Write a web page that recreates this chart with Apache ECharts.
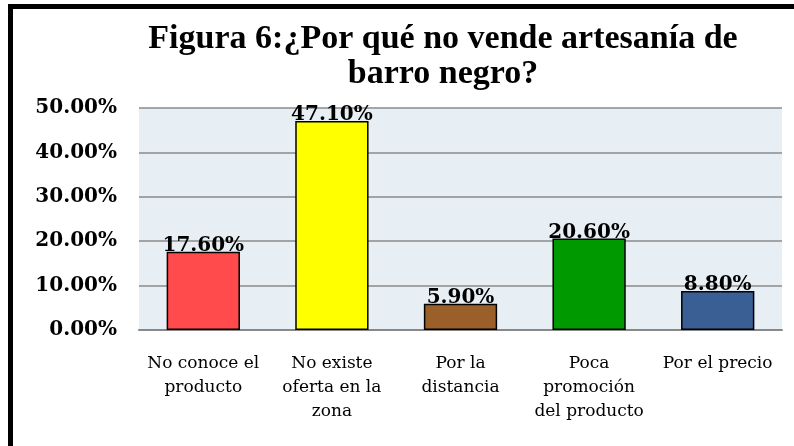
<!DOCTYPE html>
<html>
<head>
<meta charset="utf-8">
<script src="https://cdn.jsdelivr.net/npm/echarts@6/dist/echarts.min.js"></script>
<style>
  html, body { margin: 0; padding: 0; background: #fff; }
  #chart { width: 794px; height: 446px; }
</style>
</head>
<body>
<div id="chart"></div>
<script>
// categorias y porcentajes
var categorias = [
  'No conoce el\nproducto',
  'No existe\noferta en la\nzona',
  'Por la\ndistancia',
  'Poca\npromoción\ndel producto',
  'Por el precio'
];
var valores = [17.6, 47.1, 5.9, 20.6, 8.8];
var colores = ['#ff4b4b', '#ffff00', '#9b5f2a', '#009900', '#3a5f95'];

var serif = '"Liberation Serif", "DejaVu Serif", serif';
var ancha = '"DejaVu Serif", serif';

var myChart = echarts.init(document.getElementById('chart'));
myChart.setOption({
  animation: false,
  backgroundColor: '#fff',
  title: {
    text: 'Figura 6:¿Por qué no vende artesanía de\nbarro negro?',
    left: 438,
    top: 17,
    textAlign: 'center',
    textStyle: {
      fontFamily: serif,
      fontWeight: 'bold',
      fontSize: 34,
      lineHeight: 35,
      color: '#000'
    }
  },
  graphic: [
    { type: 'rect', shape: { x: 8, y: 4, width: 786, height: 5 }, style: { fill: '#000' } },
    { type: 'rect', shape: { x: 8, y: 4, width: 5, height: 442 }, style: { fill: '#000' } }
  ],
  grid: {
    left: 139,
    top: 108,
    right: 12,
    bottom: 116,
    show: true,
    backgroundColor: '#e8eff4',
    borderColor: '#e8eff4',
    borderWidth: 0
  },
  xAxis: {
    type: 'category',
    data: categorias,
    axisLine: { show: true, lineStyle: { color: '#888', width: 2 } },
    axisTick: { show: false },
    axisLabel: {
      interval: 0,
      margin: 22,
      fontFamily: ancha,
      fontSize: 17,
      lineHeight: 24,
      color: '#000'
    }
  },
  yAxis: {
    type: 'value',
    min: 0,
    max: 50,
    interval: 10,
    axisLine: { show: false },
    axisTick: { show: false },
    splitLine: { lineStyle: { color: '#8a8a8a', width: 1.5 } },
    axisLabel: {
      margin: 22,
      fontFamily: ancha,
      fontWeight: 'bold',
      fontSize: 20,
      color: '#000',
      formatter: function (v) { return v.toFixed(2) + '%'; }
    }
  },
  series: [
    {
      type: 'bar',
      barWidth: '57%',
      data: valores.map(function (v, i) {
        return { value: v, itemStyle: { color: colores[i] } };
      }),
      itemStyle: { borderColor: '#000', borderWidth: 1.5 },
      label: {
        show: true,
        position: 'top',
        distance: -4,
        fontFamily: ancha,
        fontWeight: 'bold',
        fontSize: 20,
        color: '#000',
        formatter: function (p) { return p.value.toFixed(2) + '%'; }
      }
    }
  ]
});
</script>
</body>
</html>
